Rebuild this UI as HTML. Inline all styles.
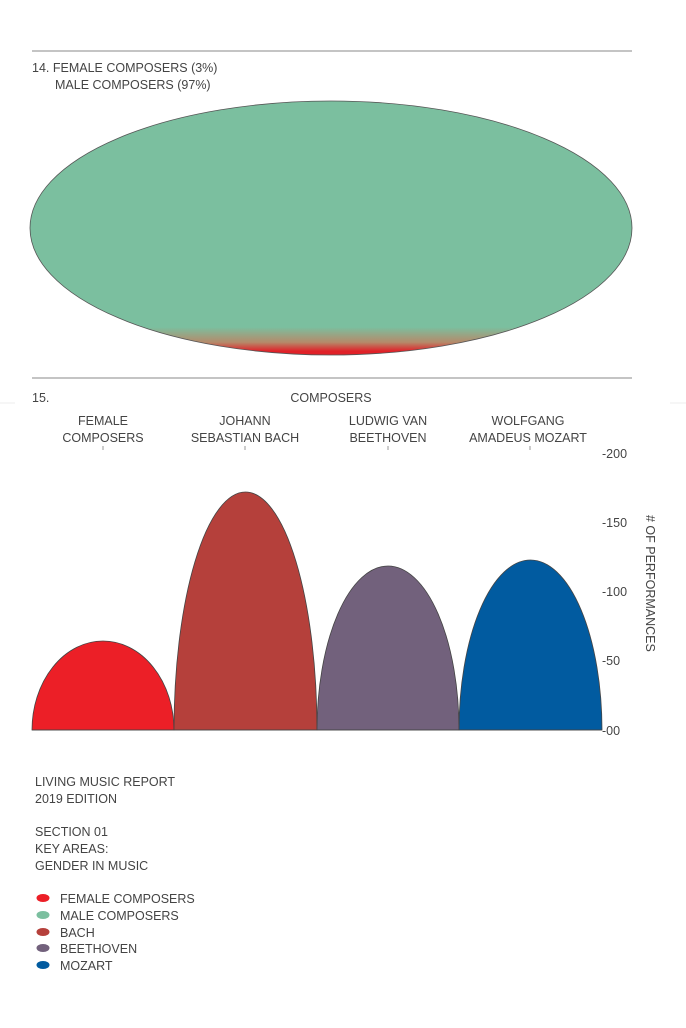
<!DOCTYPE html>
<html><head><meta charset="utf-8"><style>
body{margin:0;background:#fff;width:686px;height:1023px;overflow:hidden;font-family:"Liberation Sans",sans-serif;}
svg text{font-family:"Liberation Sans",sans-serif;fill:#444;font-size:12.5px;}
</style></head><body>
<svg width="686" height="1023" viewBox="0 0 686 1023">
<defs>
<linearGradient id="g" x1="0" y1="0" x2="0" y2="1">
<stop offset="0" stop-color="#7bbf9f"/>
<stop offset="0.89" stop-color="#7bbf9f"/>
<stop offset="0.95" stop-color="#b58a6a"/>
<stop offset="0.985" stop-color="#e02128"/>
<stop offset="1" stop-color="#e02128"/>
</linearGradient>
</defs>
<line x1="32" y1="51" x2="632" y2="51" stroke="#888" stroke-width="1"/>
<text x="32" y="72">14. FEMALE COMPOSERS (3%)</text>
<text x="55" y="89">MALE COMPOSERS (97%)</text>
<ellipse cx="331" cy="228" rx="301" ry="127" fill="url(#g)" stroke="#555" stroke-width="0.8"/>
<line x1="32" y1="378" x2="632" y2="378" stroke="#888" stroke-width="1"/>
<line x1="0" y1="403" x2="15" y2="403" stroke="#eee"/>
<line x1="670" y1="403" x2="686" y2="403" stroke="#eee"/>
<text x="32" y="402">15.</text>
<text x="331" y="402" text-anchor="middle">COMPOSERS</text>
<g text-anchor="middle">
<text x="103" y="425">FEMALE</text><text x="103" y="442">COMPOSERS</text>
<text x="245" y="425">JOHANN</text><text x="245" y="442">SEBASTIAN BACH</text>
<text x="388" y="425">LUDWIG VAN</text><text x="388" y="442">BEETHOVEN</text>
<text x="528" y="425">WOLFGANG</text><text x="528" y="442">AMADEUS MOZART</text>
</g>
<g stroke="#999"><line x1="103" y1="446" x2="103" y2="450"/><line x1="245" y1="446" x2="245" y2="450"/><line x1="388" y1="446" x2="388" y2="450"/><line x1="530" y1="446" x2="530" y2="450"/></g>
<g stroke="#444" stroke-width="0.8">
<path d="M32 730 A71 89 0 0 1 174 730 Z" fill="#ec1f27"/>
<path d="M174 730 A71.5 238 0 0 1 317 730 Z" fill="#b5403b"/>
<path d="M317 730 A71 164 0 0 1 459 730 Z" fill="#72617c"/>
<path d="M459 730 A71.5 170 0 0 1 602 730 Z" fill="#015ba0"/>
</g>
<line x1="32" y1="730" x2="602" y2="730" stroke="#444" stroke-width="0.8"/>
<g>
<text x="602" y="458">-200</text>
<text x="602" y="527">-150</text>
<text x="602" y="596">-100</text>
<text x="602" y="665">-50</text>
<text x="602" y="735">-00</text>
</g>
<text transform="translate(646,515) rotate(90)">#  OF PERFORMANCES</text>
<text x="35" y="786">LIVING MUSIC REPORT</text>
<text x="35" y="803">2019 EDITION</text>
<text x="35" y="836">SECTION 01</text>
<text x="35" y="853">KEY AREAS:</text>
<text x="35" y="870">GENDER IN MUSIC</text>
<ellipse cx="43" cy="898" rx="6.5" ry="4" fill="#ec1f27"/><text x="60" y="903">FEMALE COMPOSERS</text>
<ellipse cx="43" cy="915" rx="6.5" ry="4" fill="#7bbf9f"/><text x="60" y="920">MALE COMPOSERS</text>
<ellipse cx="43" cy="932" rx="6.5" ry="4" fill="#b5403b"/><text x="60" y="937">BACH</text>
<ellipse cx="43" cy="948" rx="6.5" ry="4" fill="#72617c"/><text x="60" y="953">BEETHOVEN</text>
<ellipse cx="43" cy="965" rx="6.5" ry="4" fill="#015ba0"/><text x="60" y="970">MOZART</text>
</svg>
</body></html>
